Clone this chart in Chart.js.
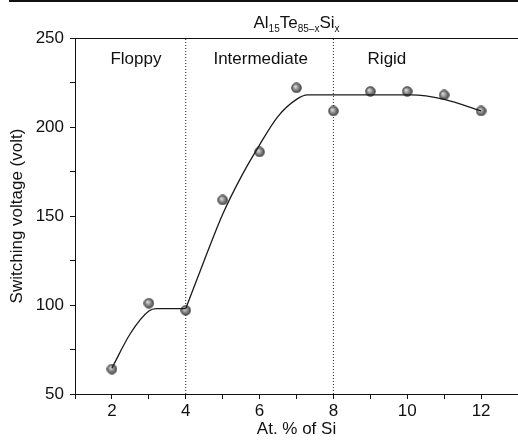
<!DOCTYPE html>
<html>
<head>
<meta charset="utf-8">
<script src="https://cdn.jsdelivr.net/npm/chart.js@4"></script>
<style>
  body { margin: 0; background: #fff; }
  #wrap { width: 518px; height: 443px; }
</style>
</head>
<body>
<div id="wrap"><canvas id="voltChart" width="518" height="443"></canvas></div>
<script>
// measured points
var siPercent = [2, 3, 4, 5, 6, 7, 8, 9, 10, 11, 12];
var voltage = [64, 101, 97, 159, 186, 222, 209, 220, 220, 218, 209];

// guide curve (two pieces, corner at x = 4)
var fitLowX = [2, 2.5, 3, 3.2, 4];
var fitLowY = [64.5, 84, 96.6, 98, 98];
var fitHighX = [4, 4.5, 5, 5.5, 6, 6.5, 7, 7.3, 10.1, 11, 12];
var fitHighY = [98, 125, 151, 172, 190, 206, 215.5, 218, 218, 215.5, 209];

// phase boundaries and labels
var boundaries = [4, 8];
var regionNames = ['Floppy', 'Intermediate', 'Rigid'];
var regionX = [2.65, 6.03, 9.45];
var regionY = 238;

var xTicks = [2, 4, 6, 8, 10, 12];

function pts(xs, ys) {
    return xs.map(function (x, i) { return { x: x, y: ys[i] }; });
}

// grey shaded ball marker
var ball = document.createElement('canvas');
ball.width = 11; ball.height = 11;
var bctx = ball.getContext('2d');
var grad = bctx.createRadialGradient(4.2, 4.2, 0.5, 5.5, 5.5, 5.5);
grad.addColorStop(0, '#d8d8d8');
grad.addColorStop(0.45, '#8a8a8a');
grad.addColorStop(1, '#3c3c3c');
bctx.beginPath();
bctx.arc(5.5, 5.5, 4.8, 0, Math.PI * 2);
bctx.fillStyle = grad;
bctx.fill();
bctx.lineWidth = 0.8;
bctx.strokeStyle = '#333';
bctx.stroke();

var FONT = 'Liberation Sans, Arial, sans-serif';

function curveSet(xs, ys) {
    return {
        data: pts(xs, ys),
        showLine: true,
        borderColor: '#1a1a1a',
        borderWidth: 1.3,
        cubicInterpolationMode: 'monotone',
        pointRadius: 0
    };
}

var dividerSets = boundaries.map(function (b) {
    return {
        data: [{ x: b, y: 50 }, { x: b, y: 250 }],
        showLine: true,
        borderColor: '#222',
        borderWidth: 1,
        borderDash: [1, 2],
        pointRadius: 0
    };
});

var extras = {
    id: 'extras',
    afterDraw: function (chart) {
        var c = chart.ctx, a = chart.chartArea;
        var xs = chart.scales.x, ys = chart.scales.y;
        c.save();
        // top frame line and the stray rule at the very top
        c.strokeStyle = '#111';
        c.lineWidth = 1;
        c.beginPath();
        c.moveTo(a.left, a.top + 0.5);
        c.lineTo(a.right, a.top + 0.5);
        c.stroke();
        c.lineWidth = 2;
        c.beginPath();
        c.moveTo(9, 1);
        c.lineTo(518, 1);
        c.stroke();

        // region labels
        c.fillStyle = '#111';
        c.font = '17px ' + FONT;
        c.textAlign = 'center';
        c.textBaseline = 'middle';
        regionNames.forEach(function (n, i) {
            c.fillText(n, xs.getPixelForValue(regionX[i]), ys.getPixelForValue(regionY));
        });

        // title with subscripts: Al15Te85-xSix
        var parts = [['Al', 0], ['15', 1], ['Te', 0], ['85\u2013x', 1], ['Si', 0], ['x', 1]];
        var big = '17px ' + FONT, small = '10px ' + FONT;
        var total = 0;
        parts.forEach(function (p) {
            c.font = p[1] ? small : big;
            total += c.measureText(p[0]).width;
        });
        var x = (a.left + a.right) / 2 - total / 2;
        var base = 28;
        c.textAlign = 'left';
        c.textBaseline = 'alphabetic';
        parts.forEach(function (p) {
            c.font = p[1] ? small : big;
            c.fillText(p[0], x, p[1] ? base + 4 : base);
            x += c.measureText(p[0]).width;
        });
        c.restore();
    }
};

var ctx = document.getElementById('voltChart').getContext('2d');
var volt_chart = new Chart(ctx, {
    type: 'scatter',
    data: {
        datasets: [
            curveSet(fitLowX, fitLowY),
            curveSet(fitHighX, fitHighY),
            {
                data: pts(siPercent, voltage),
                pointStyle: ball,
                pointRadius: 5
            }
        ].concat(dividerSets)
    },
    plugins: [extras],
    options: {
        responsive: false,
        animation: false,
        layout: { autoPadding: false, padding: { top: 38, right: -2, left: 0, bottom: 0 } },
        plugins: {
            legend: { display: false },
            tooltip: { enabled: false }
        },
        scales: {
            x: {
                type: 'linear',
                min: 1,
                max: 13,
                afterFit: function (s) {
                    s.height = 49;
                    s.paddingLeft = 0;
                    s.paddingRight = 0;
                },
                border: { color: '#111', width: 1 },
                grid: { drawOnChartArea: false, tickLength: 5, tickColor: '#111' },
                ticks: {
                    stepSize: 1,
                    autoSkip: false,
                    maxRotation: 0,
                    padding: 2,
                    color: '#111',
                    font: { family: FONT, size: 17 },
                    callback: function (v) { return xTicks.indexOf(v) >= 0 ? String(v) : ''; }
                },
                title: {
                    display: true,
                    text: 'At. % of Si',
                    color: '#111',
                    font: { family: FONT, size: 17 },
                    padding: { top: 0, bottom: 3 }
                }
            },
            y: {
                min: 50,
                max: 250,
                afterFit: function (s) {
                    s.width = 75;
                    s.paddingTop = 0;
                    s.paddingBottom = 0;
                },
                border: { color: '#111', width: 1 },
                grid: { drawOnChartArea: false, tickLength: 5, tickColor: '#111' },
                ticks: {
                    stepSize: 25,
                    autoSkip: false,
                    padding: 6,
                    color: '#111',
                    font: { family: FONT, size: 17 },
                    callback: function (v) { return v % 50 === 0 ? String(v) : ''; }
                },
                title: {
                    display: true,
                    text: 'Switching voltage (volt)',
                    color: '#111',
                    font: { family: FONT, size: 17 },
                    padding: { top: 7, bottom: 0 }
                }
            }
        }
    }
});
</script>
</body>
</html>
